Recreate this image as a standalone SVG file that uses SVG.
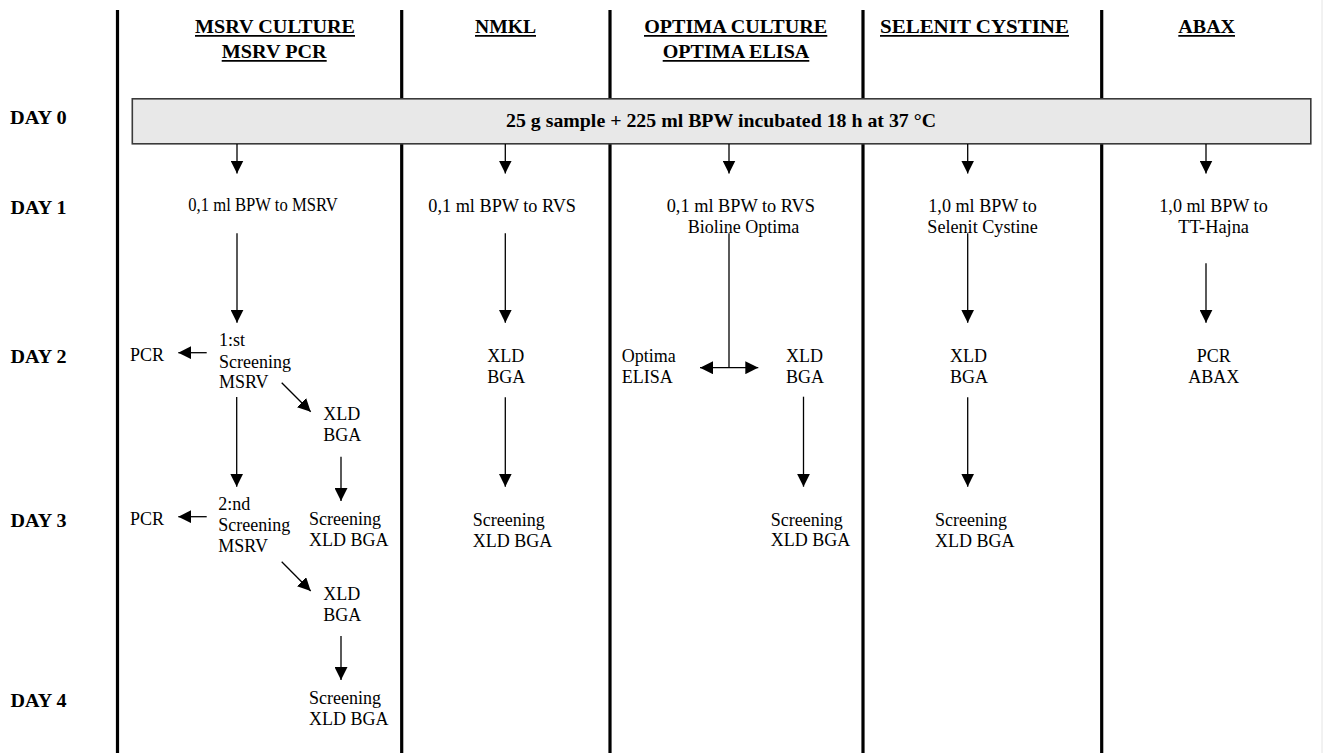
<svg xmlns="http://www.w3.org/2000/svg" width="1324" height="753" viewBox="0 0 1324 753">
<style>
.hd{font-family:"Liberation Serif","Times New Roman",serif;font-weight:bold;font-size:19px;text-anchor:middle;fill:#000}
.day{font-family:"Liberation Serif","Times New Roman",serif;font-weight:bold;font-size:19.5px;fill:#000}
.t{font-family:"Liberation Serif","Times New Roman",serif;font-size:18px;fill:#000}
.ul{stroke:#000;stroke-width:1.7}
.col{stroke:#000;stroke-width:3.2}
.ar{stroke:#000;stroke-width:1.3;fill:none;marker-end:url(#ah)}
.ln{stroke:#000;stroke-width:1.3;fill:none}
</style>
<defs>
<marker id="ah" viewBox="0 0 13 13" refX="13" refY="6.5" markerWidth="13" markerHeight="13" markerUnits="userSpaceOnUse" orient="auto">
<path d="M0,0 L13,6.5 L0,13 z" fill="#000"/>
</marker>
<marker id="ahs" viewBox="0 0 13 13" refX="0" refY="6.5" markerWidth="13" markerHeight="13" markerUnits="userSpaceOnUse" orient="auto">
<path d="M13,0 L0,6.5 L13,13 z" fill="#000"/>
</marker>
</defs>
<rect width="1324" height="753" fill="#fff"/>
<line x1="1322" y1="0" x2="1322" y2="753" stroke="#e4e4e4" stroke-width="1"/>

<g id="columns">
<line class="col" x1="117.5" y1="10" x2="117.5" y2="753"/>
<line class="col" x1="401.7" y1="10" x2="401.7" y2="753"/>
<line class="col" x1="610" y1="10" x2="610" y2="753"/>
<line class="col" x1="863" y1="10" x2="863" y2="753"/>
<line class="col" x1="1101.7" y1="10" x2="1101.7" y2="753"/>
</g>

<g id="headers">
<text class="hd" x="275" y="33.3" textLength="160" lengthAdjust="spacingAndGlyphs">MSRV CULTURE</text>
<line class="ul" x1="195" y1="35.8" x2="355" y2="35.8"/>
<text class="hd" x="274.2" y="58.3" textLength="105" lengthAdjust="spacingAndGlyphs">MSRV PCR</text>
<line class="ul" x1="221.7" y1="60.8" x2="326.7" y2="60.8"/>
<text class="hd" x="505.5" y="33.3" textLength="61" lengthAdjust="spacingAndGlyphs">NMKL</text>
<line class="ul" x1="475" y1="35.8" x2="536" y2="35.8"/>
<text class="hd" x="735.7" y="33.3" textLength="183" lengthAdjust="spacingAndGlyphs">OPTIMA CULTURE</text>
<line class="ul" x1="644" y1="35.8" x2="827.3" y2="35.8"/>
<text class="hd" x="736" y="58.3" textLength="146.6" lengthAdjust="spacingAndGlyphs">OPTIMA ELISA</text>
<line class="ul" x1="662.7" y1="60.8" x2="809.3" y2="60.8"/>
<text class="hd" x="974.5" y="33.3" textLength="189" lengthAdjust="spacingAndGlyphs">SELENIT CYSTINE</text>
<line class="ul" x1="880" y1="35.8" x2="1069" y2="35.8"/>
<text class="hd" x="1206.7" y="33.3" textLength="56.7" lengthAdjust="spacingAndGlyphs">ABAX</text>
<line class="ul" x1="1178.3" y1="35.8" x2="1235" y2="35.8"/>
</g>

<g id="days">
<text class="day" x="10" y="124" textLength="56.7" lengthAdjust="spacingAndGlyphs">DAY 0</text>
<text class="day" x="10.5" y="214" textLength="56" lengthAdjust="spacingAndGlyphs">DAY 1</text>
<text class="day" x="10.5" y="362.7" textLength="56" lengthAdjust="spacingAndGlyphs">DAY 2</text>
<text class="day" x="10.5" y="527.3" textLength="56" lengthAdjust="spacingAndGlyphs">DAY 3</text>
<text class="day" x="10.5" y="706.7" textLength="56" lengthAdjust="spacingAndGlyphs">DAY 4</text>
</g>

<g id="sample-box">
<rect x="132.3" y="98.8" width="1178.5" height="45" fill="#e8e8e8" stroke="#3a3a3a" stroke-width="1.6"/>
<text class="day" x="721" y="127" text-anchor="middle" textLength="430" lengthAdjust="spacingAndGlyphs">25 g sample + 225 ml BPW incubated 18 h at 37 °C</text>
</g>

<g id="msrv-day1"><text class="t" x="188.3" y="211" font-size="16" textLength="149.4" lengthAdjust="spacingAndGlyphs">0,1 ml BPW to MSRV</text></g>
<g id="msrv-screen1"><text class="t" x="219" y="345.7">1:st</text><text class="t" x="219" y="367.7">Screening</text><text class="t" x="219" y="388.3">MSRV</text></g>
<g id="msrv-pcr1"><text class="t" x="130" y="361">PCR</text></g>
<g id="msrv-xld1"><text class="t" x="323.3" y="420">XLD</text><text class="t" x="323.3" y="441">BGA</text></g>
<g id="msrv-scr-xld1"><text class="t" x="309" y="525">Screening</text><text class="t" x="309" y="546">XLD BGA</text></g>
<g id="msrv-screen2"><text class="t" x="218.3" y="510">2:nd</text><text class="t" x="218.3" y="531">Screening</text><text class="t" x="218.3" y="551.7">MSRV</text></g>
<g id="msrv-pcr2"><text class="t" x="130" y="525">PCR</text></g>
<g id="msrv-xld2"><text class="t" x="323.3" y="600">XLD</text><text class="t" x="323.3" y="621">BGA</text></g>
<g id="msrv-scr-xld2"><text class="t" x="309" y="704.3">Screening</text><text class="t" x="309" y="725">XLD BGA</text></g>

<g id="nmkl-day1"><text class="t" x="428.3" y="211.7" textLength="147.7" lengthAdjust="spacingAndGlyphs">0,1 ml BPW to RVS</text></g>
<g id="nmkl-xld"><text class="t" x="487.3" y="361.7">XLD</text><text class="t" x="487.3" y="382.7">BGA</text></g>
<g id="nmkl-scr"><text class="t" x="472.7" y="526">Screening</text><text class="t" x="472.7" y="546.7">XLD BGA</text></g>

<g id="optima-day1"><text class="t" x="666.7" y="211.7" textLength="148.3" lengthAdjust="spacingAndGlyphs">0,1 ml BPW to RVS</text><text class="t" x="687.7" y="232.5" textLength="111.6" lengthAdjust="spacingAndGlyphs">Bioline Optima</text></g>
<g id="optima-elisa"><text class="t" x="621.7" y="361.7">Optima</text><text class="t" x="621.7" y="382.7">ELISA</text></g>
<g id="optima-xld"><text class="t" x="786" y="361.7">XLD</text><text class="t" x="786" y="382.7">BGA</text></g>
<g id="optima-scr"><text class="t" x="770.7" y="526">Screening</text><text class="t" x="770.7" y="546">XLD BGA</text></g>

<g id="selenit-day1"><text class="t" x="928.3" y="211.7" textLength="108.4" lengthAdjust="spacingAndGlyphs">1,0 ml BPW to</text><text class="t" x="927.3" y="232.5" textLength="110.4" lengthAdjust="spacingAndGlyphs">Selenit Cystine</text></g>
<g id="selenit-xld"><text class="t" x="950" y="361.7">XLD</text><text class="t" x="950" y="382.7">BGA</text></g>
<g id="selenit-scr"><text class="t" x="935" y="526">Screening</text><text class="t" x="935" y="546.7">XLD BGA</text></g>

<g id="abax-day1"><text class="t" x="1159.3" y="211.7" textLength="108.4" lengthAdjust="spacingAndGlyphs">1,0 ml BPW to</text><text class="t" x="1178.3" y="232.5" textLength="70.7" lengthAdjust="spacingAndGlyphs">TT-Hajna</text></g>
<g id="abax-pcr"><text class="t" x="1196.7" y="361.7">PCR</text><text class="t" x="1188.3" y="382.7">ABAX</text></g>

<g id="connectors">
<line class="ar" x1="237" y1="144" x2="237" y2="173.5"/>
<line class="ar" x1="237" y1="233.3" x2="237" y2="322.7"/>
<line class="ar" x1="206.7" y1="352.7" x2="178.3" y2="352.7"/>
<line class="ar" x1="281.7" y1="382.7" x2="310.7" y2="411.7"/>
<line class="ar" x1="341" y1="456.7" x2="341" y2="501"/>
<line class="ar" x1="236.7" y1="397" x2="236.7" y2="486.7"/>
<line class="ar" x1="206.7" y1="516.7" x2="178.3" y2="516.7"/>
<line class="ar" x1="281.7" y1="561.7" x2="310.7" y2="591"/>
<line class="ar" x1="341" y1="636" x2="341" y2="680"/>

<line class="ar" x1="505.3" y1="144" x2="505.3" y2="173.5"/>
<line class="ar" x1="505.3" y1="233.3" x2="505.3" y2="322.7"/>
<line class="ar" x1="505.3" y1="397.3" x2="505.3" y2="486.7"/>

<line class="ar" x1="729" y1="144" x2="729" y2="173.5"/>
<line class="ln" x1="729" y1="233.3" x2="729" y2="367.7" stroke="#444"/>
<line class="ln" x1="700" y1="367.7" x2="758.3" y2="367.7" marker-start="url(#ahs)" marker-end="url(#ah)"/>
<line class="ar" x1="803.5" y1="396.7" x2="803.5" y2="486.7"/>

<line class="ar" x1="967.7" y1="144" x2="967.7" y2="173.5"/>
<line class="ar" x1="967.7" y1="233.3" x2="967.7" y2="322.7"/>
<line class="ar" x1="967.7" y1="397.3" x2="967.7" y2="486.7"/>

<line class="ar" x1="1206" y1="144" x2="1206" y2="173.5"/>
<line class="ar" x1="1206" y1="263.3" x2="1206" y2="322.7"/>
</g>
</svg>
